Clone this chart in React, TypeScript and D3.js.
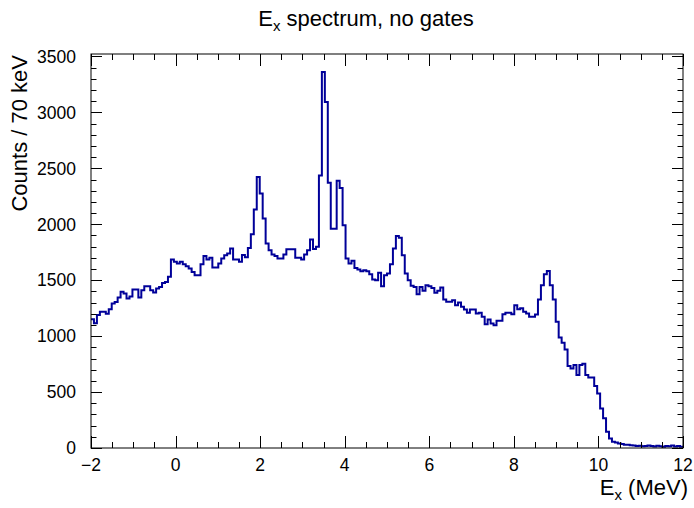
import React from "react";
import * as d3 from "d3";

const W = 694;
const H = 508;

// Histogram: 200 bins of 70 keV from -2 to 12 MeV
const xMin = -2;
const xMax = 12;
const binWidth = 0.07;
const counts: number[] = [
  // -2.00 .. -0.11
  1150, 1115, 1190, 1217, 1217, 1200, 1241, 1292, 1305, 1345, 1396, 1380, 1336, 1355, 1417, 1417, 1345, 1410, 1446, 1446, 1410, 1390, 1425, 1440, 1476, 1485, 1530,
  // -0.11 .. 1.99
  1685, 1664, 1650, 1664, 1643, 1625, 1604, 1574, 1545, 1545, 1643, 1717, 1685, 1700, 1613, 1613, 1650, 1694, 1723, 1738, 1783, 1685, 1685, 1665, 1726, 1705, 1788, 1911, 2131, 2423,
  // 1.99 .. 4.16
  2274, 2051, 1827, 1768, 1729, 1717, 1693, 1693, 1730, 1777, 1777, 1777, 1700, 1700, 1684, 1730, 1768, 1863, 1780, 1800, 2437, 3360, 3092, 2372, 1961, 1961, 2390, 2324, 1991, 1693, 1649,
  // 4.16 .. 6.33
  1673, 1610, 1595, 1580, 1590, 1580, 1553, 1506, 1500, 1566, 1446, 1545, 1560, 1643, 1783, 1896, 1880, 1723, 1560, 1500, 1450, 1440, 1375, 1440, 1405, 1455, 1446, 1430, 1387, 1405, 1435,
  // 6.33 .. 8.22
  1327, 1307, 1307, 1321, 1277, 1301, 1262, 1238, 1208, 1238, 1238, 1202, 1208, 1173, 1107, 1149, 1113, 1098, 1137, 1137, 1196, 1208, 1208, 1196, 1277, 1240, 1250,
  // 8.22 .. 10.11
  1217, 1202, 1173, 1173, 1193, 1327, 1455, 1554, 1583, 1455, 1327, 1128, 988, 940, 881, 732, 711, 741, 652, 741, 754, 652, 631, 631, 554, 488, 354,
  // 10.11 .. 12.00
  265, 146, 86, 56, 50, 40, 36, 30,
  28, 25, 22, 18, 20, 15, 18, 22, 17, 14, 20, 16, 12, 18, 15, 22, 14, 19, 12,
];

const xTicks = [-2, 0, 2, 4, 6, 8, 10, 12];
const yTicks = [0, 500, 1000, 1500, 2000, 2500, 3000, 3500];
const titleText = "spectrum, no gates";
const yTitle = "Counts / 70 keV";

const margin = { left: 91, right: 11, top: 54, bottom: 60 };
const yMax = 3522;

const fmt = (v: number) => (v < 0 ? "\u2212" + Math.abs(v) : String(v));

export default function App() {
  const x = d3.scaleLinear().domain([xMin, xMax]).range([margin.left, W - margin.right]);
  const y = d3.scaleLinear().domain([0, yMax]).range([H - margin.bottom, margin.top]);
  const x0 = x.range()[0], x1 = x.range()[1];
  const y0 = y.range()[0], y1 = y.range()[1];

  const pts: [number, number][] = counts.map((c, i) => [xMin + i * binWidth, c]);
  pts.push([xMin + counts.length * binWidth, counts[counts.length - 1]]);
  const line = d3
    .line<[number, number]>()
    .x((d) => x(d[0]))
    .y((d) => y(d[1]))
    .curve(d3.curveStepAfter);

  const xMinor = d3.range(xMin, xMax + 0.001, 0.5);
  const yMinor = d3.range(0, yMax, 100);

  const font = "'Liberation Sans', Arial, Helvetica, sans-serif";
  const majX = 12, minX = 6, majY = 11, minY = 5.5;

  return (
    <svg width={W} height={H} style={{ display: "block", position: "absolute", left: 0, top: 0, background: "#fff" }} fontFamily={font}>
      <rect x={0} y={0} width={W} height={H} fill="#fff" />
      {/* title */}
      <text x={366} y={26} fontSize={22} textAnchor="middle" fill="#000">
        E<tspan fontSize={15} dy={5}>x</tspan>
        <tspan dy={-5}> {titleText}</tspan>
      </text>
      {/* histogram */}
      <path d={line(pts) || ""} fill="none" stroke="#000099" strokeWidth={2} strokeLinejoin="miter" />
      {/* frame */}
      <rect x={x0} y={y1} width={x1 - x0} height={y0 - y1} fill="none" stroke="#000" strokeWidth={1} />
      {/* x ticks */}
      {xMinor.map((v, i) => {
        const isMaj = Math.abs(v / 2 - Math.round(v / 2)) < 1e-6;
        const len = isMaj ? majX : minX;
        const px = Math.round(x(v)) + 0.5;
        return (
          <g key={"xt" + i}>
            <line x1={px} x2={px} y1={y0} y2={y0 - len} stroke="#000" />
            <line x1={px} x2={px} y1={y1} y2={y1 + len} stroke="#000" />
          </g>
        );
      })}
      {xTicks.map((v) => (
        <text key={"xl" + v} x={x(v)} y={y0 + 23} fontSize={17.5} textAnchor="middle">
          {fmt(v)}
        </text>
      ))}
      {/* y ticks */}
      {yMinor.map((v, i) => {
        const isMaj = v % 500 === 0;
        const len = isMaj ? majY : minY;
        const py = Math.round(y(v)) + 0.5;
        return (
          <g key={"yt" + i}>
            <line x1={x0} x2={x0 + len} y1={py} y2={py} stroke="#000" />
            <line x1={x1} x2={x1 - len} y1={py} y2={py} stroke="#000" />
          </g>
        );
      })}
      {yTicks.map((v) => (
        <text key={"yl" + v} x={x0 - 15} y={y(v)} dy="0.36em" fontSize={17.5} textAnchor="end">
          {fmt(v)}
        </text>
      ))}
      {/* axis titles */}
      <text x={x1 + 5} y={H - 13} fontSize={22} textAnchor="end">
        E<tspan fontSize={15} dy={5}>x</tspan>
        <tspan dy={-5}> (MeV)</tspan>
      </text>
      <text transform={`translate(27, ${y1 + 1}) rotate(-90)`} fontSize={22} textAnchor="end">
        {yTitle}
      </text>
    </svg>
  );
}
